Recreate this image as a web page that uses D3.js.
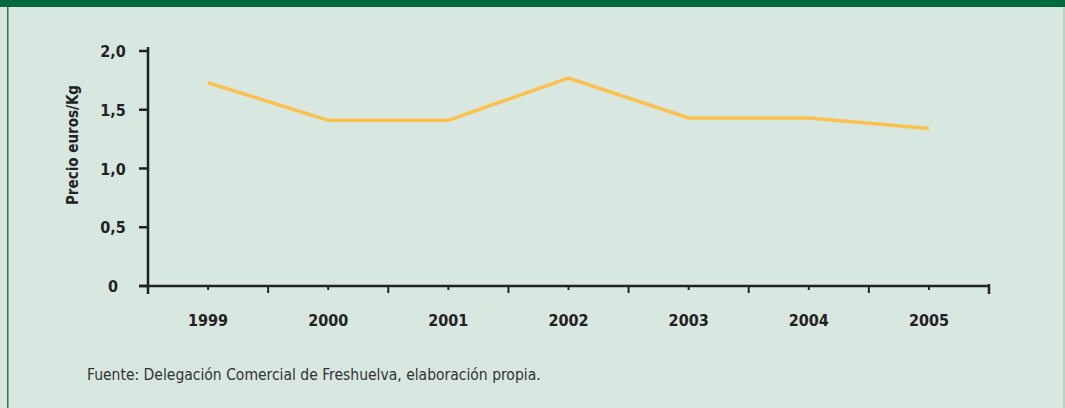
<!DOCTYPE html>
<meta charset="utf-8">
<style type="text/css">
body { margin: 0; background: #ffffff; }
.tick-label { font-family: 'DejaVu Sans Condensed', 'Liberation Sans Narrow', sans-serif; font-weight: bold; font-size: 16px; fill: #222; }
.y-title { font-family: 'DejaVu Sans Condensed', 'Liberation Sans Narrow', sans-serif; font-weight: bold; font-size: 15px; fill: #222; }
.source { font-family: 'DejaVu Sans Condensed', 'Liberation Sans Narrow', sans-serif; font-size: 15.5px; fill: #333; }
</style>
<head>
  <script src="https://cdnjs.cloudflare.com/ajax/libs/d3/7.8.5/d3.min.js"></script>
</head>
<body>
  <div class="g-chart"></div>
<script type="text/javascript">

// data
var years = ["1999", "2000", "2001", "2002", "2003", "2004", "2005"];
var precio = [1.73, 1.41, 1.41, 1.77, 1.43, 1.43, 1.34];
var yTicks = [0, 0.5, 1, 1.5, 2];
var yTickLabels = ["0", "0,5", "1,0", "1,5", "2,0"];

var W = 1065, H = 408;

var svg = d3.select(".g-chart").append("svg")
  .attr("width", W)
  .attr("height", H);

// background panel + green band
svg.append("rect").attr("x", 0).attr("y", 0).attr("width", W).attr("height", H).attr("fill", "#d9e7e1");
svg.append("rect").attr("x", 0).attr("y", 0).attr("width", W).attr("height", 7).attr("fill", "#006a3f");
svg.append("rect").attr("x", 7).attr("y", 7).attr("width", 1.5).attr("height", H - 7).attr("fill", "#2c7a52");
svg.append("rect").attr("x", 1063).attr("y", 7).attr("width", 2).attr("height", H - 7).attr("fill", "#b8d6c6");

//Sets plot area (not "top": that is window.top)
var pLeft = 148, pRight = 989, pTop = 51, pBottom = 286;

var x = d3.scaleBand()
  .domain(years)
  .range([pLeft, pRight]);

var y = d3.scaleLinear()
  .domain([0, 2])
  .range([pBottom, pTop]);

// y axis line
svg.append("line")
  .attr("x1", pLeft).attr("x2", pLeft)
  .attr("y1", pTop - 4).attr("y2", pBottom + 8)
  .attr("stroke", "#222").attr("stroke-width", 2.5);

// y ticks
svg.selectAll("line.ytick")
  .data(yTicks)
  .enter().append("line")
  .attr("class", "ytick")
  .attr("x1", pLeft - 9).attr("x2", pLeft)
  .attr("y1", function(d) { return y(d); })
  .attr("y2", function(d) { return y(d); })
  .attr("stroke", "#222").attr("stroke-width", 2.5);

svg.selectAll("text.ylab")
  .data(yTicks)
  .enter().append("text")
  .attr("class", "tick-label")
  .attr("x", 113)
  .attr("y", function(d) { return y(d) + 6; })
  .attr("text-anchor", "middle")
  .text(function(d, i) { return yTickLabels[i]; });

// x axis line
svg.append("line")
  .attr("x1", pLeft - 9).attr("x2", pRight + 1)
  .attr("y1", pBottom).attr("y2", pBottom)
  .attr("stroke", "#222").attr("stroke-width", 2.5);

// band boundary ticks
var bounds = years.map(function(d) { return x(d); });
svg.selectAll("line.xbound")
  .data(bounds)
  .enter().append("line")
  .attr("class", "xbound")
  .attr("x1", function(d) { return d; })
  .attr("x2", function(d) { return d; })
  .attr("y1", pBottom)
  .attr("y2", pBottom + 7)
  .attr("stroke", "#222").attr("stroke-width", 2);

svg.append("line")
  .attr("x1", pRight).attr("x2", pRight)
  .attr("y1", pBottom - 2).attr("y2", pBottom + 8)
  .attr("stroke", "#222").attr("stroke-width", 2.5);

// center ticks
svg.selectAll("line.xmid")
  .data(years)
  .enter().append("line")
  .attr("class", "xmid")
  .attr("x1", function(d) { return x(d) + x.bandwidth() / 2; })
  .attr("x2", function(d) { return x(d) + x.bandwidth() / 2; })
  .attr("y1", pBottom).attr("y2", pBottom + 4)
  .attr("stroke", "#222").attr("stroke-width", 2);

svg.selectAll("text.xlab")
  .data(years)
  .enter().append("text")
  .attr("class", "tick-label")
  .attr("x", function(d) { return x(d) + x.bandwidth() / 2; })
  .attr("y", 326)
  .attr("text-anchor", "middle")
  .text(function(d) { return d; });

// y title
svg.append("text")
  .attr("class", "y-title")
  .attr("transform", "translate(78,145) rotate(-90)")
  .attr("text-anchor", "middle")
  .text("Precio euros/Kg");

// line
var line = d3.line()
  .x(function(d, i) { return x(years[i]) + x.bandwidth() / 2; })
  .y(function(d) { return y(d); });

svg.append("path")
  .datum(precio)
  .attr("d", line)
  .attr("fill", "none")
  .attr("stroke", "#fcc04c")
  .attr("stroke-width", 3.5)
  .attr("stroke-linejoin", "miter");

// source
svg.append("text")
  .attr("class", "source")
  .attr("x", 87)
  .attr("y", 380)
  .text("Fuente: Delegación Comercial de Freshuelva, elaboración propia.");

</script>
</body>
